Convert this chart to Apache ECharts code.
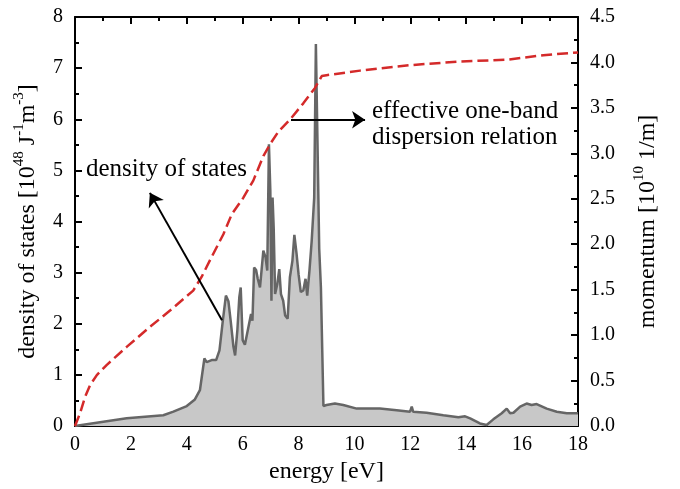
<!DOCTYPE html>
<html>
<head>
<meta charset="utf-8">
<script src="https://cdn.jsdelivr.net/npm/echarts@6/dist/echarts.min.js"></script>
<style>
    html, body { margin: 0; padding: 0; background: #fff; }
    #main { width: 680px; height: 489px; }
</style>
</head>
<body>
<div id="main"></div>
<script>
// density of states, energy [eV] vs 10^48 J^-1 m^-3
const dosEnergy = [0, 1.85, 3.16, 3.52, 4.0, 4.29, 4.47, 4.63, 4.71, 4.89, 5.05, 5.17, 5.29, 5.4, 5.49, 5.57, 5.67, 5.73,
    5.81, 5.88, 5.93, 6.0, 6.08, 6.14, 6.23, 6.3, 6.35, 6.41, 6.48, 6.54, 6.62, 6.68, 6.74, 6.82, 6.88, 6.94, 6.99, 7.03,
    7.07, 7.11, 7.16, 7.24, 7.31, 7.37, 7.45, 7.52, 7.61, 7.69, 7.78, 7.85, 7.93, 8.0, 8.08, 8.17, 8.25, 8.31, 8.39, 8.47,
    8.56, 8.62, 8.68, 8.74, 8.8, 8.89, 9.0, 9.3, 9.6, 10.08, 10.91, 11.51, 11.99, 12.05, 12.1, 12.58, 13.18, 13.72, 13.96,
    14.14, 14.49, 14.73, 14.97, 15.27, 15.45, 15.57, 15.69, 15.93, 16.16, 16.34, 16.52, 16.88, 17.24, 17.6, 18];
const dosValue = [0, 0.15, 0.21, 0.28, 0.39, 0.52, 0.70, 1.32, 1.25, 1.29, 1.29, 1.48, 2.06, 2.55, 2.44, 2.06, 1.55, 1.38,
    1.87, 2.52, 2.71, 1.68, 1.59, 1.61, 2.0, 2.19, 2.06, 3.10, 3.05, 2.88, 2.71, 3.07, 3.43, 3.30, 3.04, 5.51, 4.6, 2.45,
    4.47, 3.88, 2.58, 2.78, 3.07, 2.58, 2.45, 2.16, 2.10, 2.91, 3.23, 3.74, 3.36, 2.97, 2.62, 2.65, 2.88, 2.55, 3.04, 3.62,
    4.47, 7.47, 7.47, 3.46, 2.71, 0.39, 0.41, 0.44, 0.41, 0.34, 0.34, 0.31, 0.28, 0.38, 0.28, 0.26, 0.21, 0.17, 0.19,
    0.15, 0.05, 0.02, 0.13, 0.25, 0.34, 0.25, 0.26, 0.38, 0.44, 0.41, 0.43, 0.34, 0.28, 0.25, 0.25];

// effective one-band dispersion relation, energy [eV] vs momentum 10^10 1/m
const dispEnergy = [0, 0.18, 0.36, 0.54, 0.78, 1.13, 1.85, 2.68, 3.4, 4.23, 4.53, 4.89, 5.31, 5.61, 6.02, 6.38, 6.74,
    6.98, 7.28, 7.69, 8.17, 8.59, 8.83, 9.0, 10.2, 11.99, 13.78, 15.45, 16.76, 18];
const dispMomentum = [0, 0.14, 0.32, 0.45, 0.56, 0.67, 0.87, 1.09, 1.27, 1.49, 1.64, 1.86, 2.11, 2.33, 2.51, 2.70, 2.97,
    3.10, 3.24, 3.37, 3.55, 3.72, 3.85, 3.86, 3.91, 3.97, 4.01, 4.03, 4.08, 4.11];

const font = 'Liberation Serif, Times New Roman, serif';

let chartDom = document.getElementById('main');
let myChart = echarts.init(chartDom);
let option;

const lineCfg = { show: true, onZero: false, lineStyle: { color: '#000', width: 2 } };
const tickStyle = { show: true, inside: true, length: 7, lineStyle: { color: '#000', width: 2 } };
const minorStyle = { show: true, splitNumber: 2, length: 4, lineStyle: { color: '#000', width: 2 } };
const richName = {
    a: { fontFamily: font, fontSize: 24, color: '#000', lineHeight: 28, verticalAlign: 'bottom' },
    s: { fontFamily: font, fontSize: 15, color: '#000', verticalAlign: 'top', padding: [0, 0, 10, 0] }
};

option = {
    animation: false,
    backgroundColor: '#fff',
    grid: { left: 75, right: 102, top: 17, bottom: 63, outerBoundsMode: 'none', containLabel: false },
    xAxis: [
        {
            type: 'value',
            min: 0, max: 18, interval: 2,
            name: 'energy [eV]',
            nameLocation: 'middle',
            nameGap: 30,
            nameTextStyle: { fontFamily: font, fontSize: 24, color: '#000' },
            axisLine: lineCfg,
            axisTick: tickStyle,
            minorTick: minorStyle,
            axisLabel: { fontFamily: font, fontSize: 20, color: '#000', margin: 9 },
            splitLine: { show: false }
        },
        {
            type: 'value', position: 'top',
            min: 0, max: 18, interval: 2,
            axisLine: lineCfg,
            axisTick: tickStyle,
            minorTick: minorStyle,
            axisLabel: { show: false },
            splitLine: { show: false }
        }
    ],
    yAxis: [
        {
            type: 'value',
            min: 0, max: 8, interval: 1,
            name: '{a|density of states [10}{s|48}{a| J}{s|-1}{a|m}{s|-3}{a|]}',
            nameLocation: 'middle',
            nameGap: 35,
            nameTextStyle: { rich: richName },
            axisLine: lineCfg,
            axisTick: tickStyle,
            minorTick: minorStyle,
            axisLabel: { fontFamily: font, fontSize: 20, color: '#000', margin: 12 },
            splitLine: { show: false }
        },
        {
            type: 'value', position: 'right',
            min: 0, max: 4.5, interval: 0.5,
            name: '{a|momentum [10}{s|10}{a| 1/m]}',
            nameLocation: 'middle',
            nameGap: 54,
            nameTextStyle: { rich: richName },
            axisLine: lineCfg,
            axisTick: tickStyle,
            minorTick: minorStyle,
            axisLabel: { fontFamily: font, fontSize: 20, color: '#000', margin: 12,
                formatter: v => v.toFixed(1) },
            splitLine: { show: false }
        }
    ],
    series: [
        {
            name: 'density of states',
            type: 'line',
            xAxisIndex: 0, yAxisIndex: 0,
            data: dosEnergy.map((e, i) => [e, dosValue[i]]),
            showSymbol: false,
            lineStyle: { color: '#666', width: 2.5 },
            areaStyle: { color: '#c8c8c8', opacity: 1 },
            z: 2,
            markLine: {
                silent: true,
                symbol: ['none', 'arrow'],
                symbolSize: 13,
                label: { show: false },
                lineStyle: { color: '#000', width: 2, type: 'solid' },
                data: [
                    [{ coord: [5.26, 2.07] }, { coord: [2.68, 4.56] }],
                    [{ coord: [7.73, 5.99] }, { coord: [10.38, 5.99] }]
                ]
            }
        },
        {
            name: 'effective one-band dispersion relation',
            type: 'line',
            xAxisIndex: 0, yAxisIndex: 1,
            data: dispEnergy.map((e, i) => [e, dispMomentum[i]]),
            showSymbol: false,
            lineStyle: { color: '#d42a2a', width: 2.5, type: [11, 5] },
            z: 3
        }
    ],
    graphic: [
        {
            type: 'text', left: 86, top: 157,
            style: { text: 'density of states', font: '25px ' + font, fill: '#000' }
        },
        {
            type: 'text', left: 372, top: 98,
            style: { text: 'effective one-band\ndispersion relation', font: '25px ' + font, fill: '#000', lineHeight: 26 }
        }
    ]
};
option && myChart.setOption(option);
</script>
</body>
</html>
